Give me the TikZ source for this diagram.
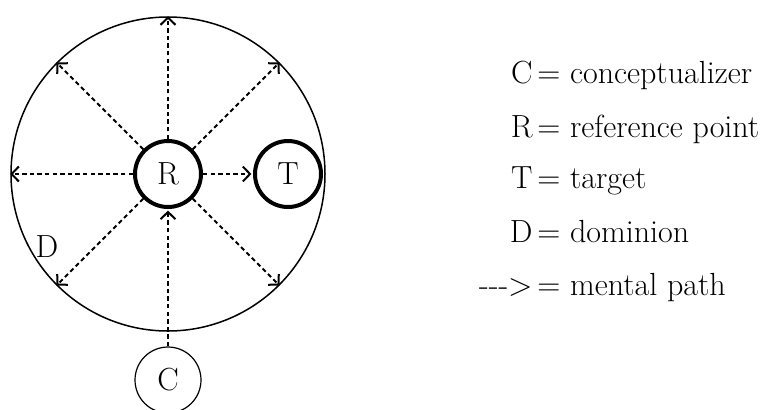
\documentclass[tikz,border=0pt]{standalone}
\usetikzlibrary{arrows.meta}

\begin{document}
\begin{tikzpicture}[
  x=0.5pt, y=-0.5pt,
  every node/.style={font=\fontsize{16}{19}\selectfont},
  spot/.style={draw, circle, minimum size=33pt, inner sep=0pt},
  heavy/.style={spot, line width=2pt},
  mental/.style={line width=1pt, dash pattern=on 2.2pt off 1.6pt, -{Straight Barb[length=3.6pt, width=7.5pt]}},
  key/.style={anchor=base east, inner sep=0pt},
  gloss/.style={anchor=base west, inner sep=0pt}
]
\useasboundingbox (0,0) rectangle (782,409);
% dominion and its participants
\node[draw, circle, minimum size=157pt, inner sep=0pt, line width=0.75pt] (dom) at (168,174) {};
\node[heavy] (R) at (168,174) {R};
\node[heavy] (T) at (288,174) {T};
\node[spot, line width=0.6pt] (C) at (168,380) {C};
\node (dlabel) at (47,247) {D};
% mental paths
\draw[mental] (R.90) -- (dom.90);
\draw[mental] (R.45) -- (dom.45);
\draw[mental] (R.135) -- (dom.135);
\draw[mental] (R.180) -- (dom.180);
\draw[mental] (R.225) -- (dom.225);
\draw[mental] (R.315) -- (dom.315);
\draw[mental, shorten >=0.8pt] (R) -- (T);
\draw[mental, shorten >=0.8pt] (C) -- (R);
% legend
\node[key] (kC) at (533,83) {C};
\node[gloss] (vC) at (537,83) {= conceptualizer};
\node[key] (kR) at (533,137) {R};
\node[gloss] (vR) at (537,137) {= reference point};
\node[key] (kT) at (533,188) {T};
\node[gloss] (vT) at (537,188) {= target};
\node[key] (kD) at (533,242) {D};
\node[gloss] (vD) at (537,242) {= dominion};
\node[key] (kP) at (533,295) {{-}{-}{-}>};
\node[gloss] (vP) at (537,295) {= mental path};
\end{tikzpicture}
\end{document}
